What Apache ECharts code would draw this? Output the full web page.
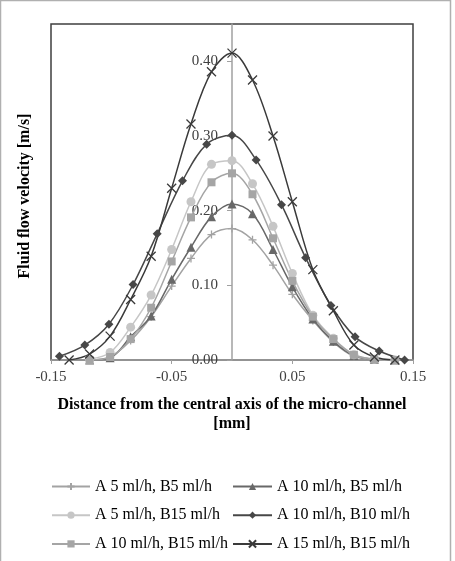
<!DOCTYPE html>
<html>
<head>
<meta charset="utf-8">
<script src="https://cdn.jsdelivr.net/npm/echarts@6/dist/echarts.min.js"></script>
<style>
  html, body { margin: 0; padding: 0; background: #fff; }
  #container { width: 455px; height: 561px; }
</style>
</head>
<body>
<div id="container"></div>
<script>
// x positions (mm) of the measured points
var xSeventeen = [-0.135, -0.118, -0.101, -0.084, -0.067, -0.050, -0.034, -0.017, 0, 0.017, 0.034, 0.050, 0.067, 0.084, 0.101, 0.118, 0.135];
var xFifteen = [-0.143, -0.122, -0.102, -0.082, -0.062, -0.041, -0.021, 0, 0.020, 0.041, 0.061, 0.082, 0.102, 0.122, 0.143];
var xSixteen = [-0.118, -0.101, -0.084, -0.067, -0.050, -0.034, -0.017, 0, 0.017, 0.034, 0.050, 0.067, 0.084, 0.101, 0.118, 0.135];

// velocities (m/s)
var vA5B5 = [0.000, 0.004, 0.026, 0.058, 0.099, 0.136, 0.168, 0.176, 0.161, 0.127, 0.088, 0.053, 0.024, 0.005, 0.001, 0.000];
var vA10B5 = [0.000, 0.003, 0.031, 0.059, 0.108, 0.151, 0.192, 0.209, 0.196, 0.148, 0.098, 0.055, 0.025, 0.006, 0.001, 0.000];
var vA5B15 = [0.001, 0.010, 0.044, 0.087, 0.148, 0.212, 0.262, 0.267, 0.236, 0.179, 0.116, 0.060, 0.029, 0.007, 0.001, 0.000];
var vA10B10 = [0.005, 0.020, 0.048, 0.101, 0.169, 0.240, 0.289, 0.301, 0.268, 0.208, 0.137, 0.073, 0.031, 0.012, 0.000];
var vA10B15 = [0.000, 0.004, 0.028, 0.070, 0.132, 0.191, 0.238, 0.250, 0.222, 0.163, 0.106, 0.058, 0.028, 0.007, 0.001, 0.000];
var vA15B15 = [0.000, 0.008, 0.032, 0.081, 0.139, 0.230, 0.316, 0.386, 0.411, 0.375, 0.300, 0.212, 0.121, 0.066, 0.020, 0.004, 0.000];

var names = ['A 5 ml/h, B5 ml/h', 'A 10 ml/h, B5 ml/h', 'A 5 ml/h, B15 ml/h', 'A 10 ml/h, B10 ml/h', 'A 10 ml/h, B15 ml/h', 'A 15 ml/h, B15 ml/h'];

var serif = 'Liberation Serif';
var plusPath = 'path://M5,0L5,10M0,5L10,5';
var crossPath = 'path://M0,0L10,10M10,0L0,10';

function pairs(xs, ys) {
  var res = [];
  for (var i = 0; i < ys.length; i++) {
    res.push([xs[i], ys[i]]);
  }
  return res;
}

function makeSeries(name, xs, ys, color, symbol, size, stroke) {
  return {
    name: name,
    type: 'line',
    smooth: 0.35,
    data: pairs(xs, ys),
    symbol: symbol,
    symbolSize: size,
    showAllSymbol: true,
    lineStyle: { color: color, width: 1.5 },
    itemStyle: stroke ? { color: color, borderColor: color, borderWidth: 1.3 } : { color: color, borderWidth: 0 },
    emphasis: { disabled: true },
    animation: false
  };
}

var myChart = echarts.init(document.getElementById('container'));

function legendColumn(left, itemWidth, data) {
  return {
    orient: 'vertical',
    left: left,
    top: 478,
    padding: 0,
    itemWidth: itemWidth,
    itemHeight: 9,
    itemGap: 11.7,
    data: data,
    textStyle: { fontFamily: serif, fontSize: 16, color: '#000', lineHeight: 17 }
  };
}

var option = {
  backgroundColor: '#fff',
  animation: false,
  grid: {
    left: 51, right: 42, top: 24, bottom: 201,
    show: true,
    borderColor: '#3f3f3f',
    borderWidth: 1.5
  },
  legend: [
    legendColumn(51, 38, [names[0], names[2], names[4]]),
    legendColumn(232, 39, [names[1], names[3], names[5]])
  ],
  xAxis: {
    type: 'value',
    min: -0.15,
    max: 0.15,
    interval: 0.1,
    name: 'Distance from the central axis of the micro-channel\n[mm]',
    nameLocation: 'middle',
    nameGap: 35,
    nameTextStyle: { fontFamily: serif, fontSize: 16, fontWeight: 'bold', color: '#000', lineHeight: 19 },
    axisLine: { onZero: false, lineStyle: { color: '#a0a0a0', width: 1.5 } },
    axisTick: { show: true, length: 4, lineStyle: { color: '#a0a0a0' } },
    axisLabel: {
      fontFamily: serif, fontSize: 15, color: '#404040', margin: 10,
      formatter: function (v) { return v.toFixed(2); }
    },
    splitLine: { show: false }
  },
  yAxis: {
    type: 'value',
    min: 0,
    max: 0.45,
    interval: 0.1,
    // axis drawn through x = 0, in the middle of the plot
    offset: -181,
    axisLine: { onZero: false, lineStyle: { color: '#a0a0a0', width: 1.5 } },
    axisTick: { show: true, length: 5, lineStyle: { color: '#a0a0a0' } },
    axisLabel: {
      fontFamily: serif, fontSize: 15, color: '#404040', margin: 14,
      showMaxLabel: false,
      formatter: function (v) { return v.toFixed(2); }
    },
    splitLine: { show: false }
  },
  graphic: [
    {
      type: 'rect',
      shape: { x: 0.5, y: 0.5, width: 450, height: 600 },
      style: { fill: 'none', stroke: '#b0b0b0', lineWidth: 1.5 },
      silent: true
    },
    {
      type: 'text',
      x: 25,
      y: 196,
      rotation: Math.PI / 2,
      style: {
        text: 'Fluid flow velocity [m/s]',
        font: 'bold 16px "Liberation Serif"',
        fill: '#000',
        textAlign: 'center',
        textVerticalAlign: 'middle'
      },
      silent: true
    }
  ],
  series: [
    makeSeries(names[0], xSixteen, vA5B5, '#a3a3a3', plusPath, 8, true),
    makeSeries(names[1], xSixteen, vA10B5, '#686868', 'triangle', 9, false),
    makeSeries(names[2], xSixteen, vA5B15, '#c6c6c6', 'circle', 9, false),
    makeSeries(names[3], xFifteen, vA10B10, '#474747', 'diamond', 9, false),
    makeSeries(names[4], xSixteen, vA10B15, '#a5a5a5', 'rect', 8, false),
    makeSeries(names[5], xSeventeen, vA15B15, '#3a3a3a', crossPath, 9, true)
  ]
};

myChart.setOption(option, true);
</script>
</body>
</html>
